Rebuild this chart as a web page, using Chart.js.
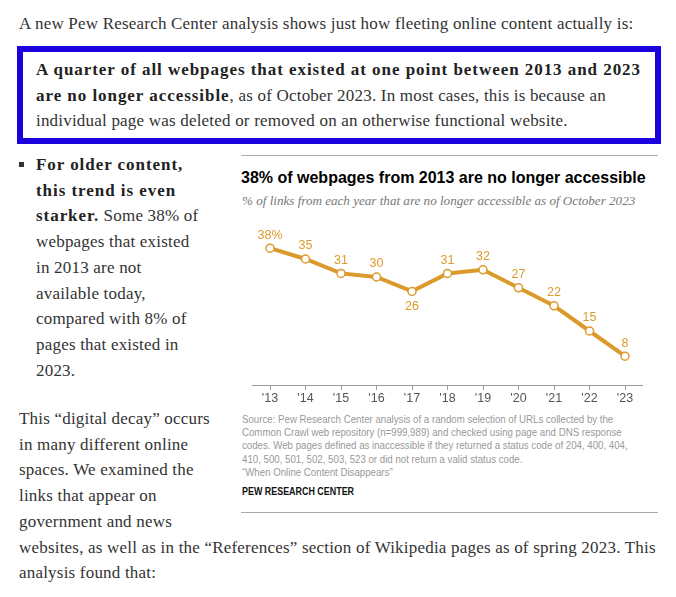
<!DOCTYPE html>
<html>
<head>
<meta charset="utf-8">
<script src="https://cdn.jsdelivr.net/npm/chart.js@4.4.1/dist/chart.umd.min.js"></script>
<style>
    body { margin: 0; background: #fff; width: 676px; height: 597px; overflow: hidden; position: relative; }
    .serif { font-family: "Liberation Serif", "Times New Roman", serif; font-size: 17px; color: #333; line-height: 25.7px; letter-spacing: 0.2px; white-space: nowrap; position: absolute; }
    .serif b { color: #222; letter-spacing: 0.95px; }
    #intro { left: 19px; top: 11px; }
    #box { position: absolute; left: 17px; top: 46px; width: 632px; height: 86px; border: 6.7px solid #1c00de; }
    #boxtext { left: 36px; top: 57px; }
    #bullet { left: 36px; top: 152px; }
    #bulletmark { position: absolute; left: 19px; top: 162px; width: 5px; height: 5px; background: #333; }
    #decay { left: 19px; top: 406px; }
    .rule { position: absolute; left: 241px; width: 417px; height: 0; border-top: 1.5px solid #aaa; }
    #title { position: absolute; left: 241px; top: 168px; font-family: "Liberation Sans", Arial, sans-serif; font-weight: bold; font-size: 16px; line-height: 20px; color: #000; white-space: nowrap; }
    #subtitle { position: absolute; left: 242px; top: 193px; font-family: "Liberation Serif", serif; font-style: italic; font-size: 13.1px; line-height: 16px; color: #777; white-space: nowrap; }
    #chart-wrap { position: absolute; left: 241px; top: 215px; width: 417px; height: 192px; }
    #source { position: absolute; left: 242px; top: 412.5px; font-family: "Liberation Sans", Arial, sans-serif; font-size: 11px; line-height: 13.4px; color: #999; white-space: nowrap; transform: scaleX(0.88); transform-origin: left top; }
    #pew { position: absolute; left: 242px; top: 483.5px; font-family: "Liberation Sans", Arial, sans-serif; font-weight: bold; font-size: 10.5px; line-height: 14px; color: #111; white-space: nowrap; transform: scaleX(0.85); transform-origin: left top; }
</style>
</head>
<body>

<div class="serif" id="intro">A new Pew Research Center analysis shows just how fleeting online content actually is:</div>

<div id="box"></div>
<div class="serif" id="boxtext"><b>A quarter of all webpages that existed at one point between 2013 and 2023</b><br><b>are no longer accessible</b>, as of October 2023. In most cases, this is because an<br>individual page was deleted or removed on an otherwise functional website.</div>

<div id="bulletmark"></div>
<div class="serif" id="bullet"><b>For older content,</b><br><b>this trend is even</b><br><b>starker.</b> Some 38% of<br>webpages that existed<br>in 2013 are not<br>available today,<br>compared with 8% of<br>pages that existed in<br>2023.</div>

<div class="serif" id="decay">This “digital decay” occurs<br>in many different online<br>spaces. We examined the<br>links that appear on<br>government and news<br>websites, as well as in the “References” section of Wikipedia pages as of spring 2023. This<br>analysis found that:</div>

<div class="rule" style="top:155px"></div>
<div id="title">38% of webpages from 2013 are no longer accessible</div>
<div id="subtitle">% of links from each year that are no longer accessible as of October 2023</div>
<div id="chart-wrap"><canvas id="myChart"></canvas></div>
<div id="source">Source: Pew Research Center analysis of a random selection of URLs collected by the<br>Common Crawl web repository (n=999,989) and checked using page and DNS response<br>codes. Web pages defined as inaccessible if they returned a status code of 204, 400, 404,<br>410, 500, 501, 502, 503, 523 or did not return a valid status code.<br>“When Online Content Disappears”</div>
<div id="pew">PEW RESEARCH CENTER</div>
<div class="rule" style="top:512px"></div>

<script>
// datos
const years = ['2013', '2014', '2015', '2016', '2017', '2018', '2019', '2020', '2021', '2022', '2023'];
const tickLabels = ["'13", "'14", "'15", "'16", "'17", "'18", "'19", "'20", "'21", "'22", "'23"];
const inaccessible = [38, 35, 31, 30, 26, 31, 32, 27, 22, 15, 8];

const gold = '#dc9a2c';

// etiquetas de valor encima (o debajo en los minimos locales) de cada punto
const valueLabels = {
    id: 'valueLabels',
    afterDatasetsDraw(chart) {
        const ctx = chart.ctx;
        const meta = chart.getDatasetMeta(0);
        const data = chart.data.datasets[0].data;
        ctx.save();
        ctx.font = '12.5px "Liberation Sans", Arial, sans-serif';
        ctx.fillStyle = gold;
        ctx.textAlign = 'center';
        ctx.textBaseline = 'middle';
        meta.data.forEach(function (pt, i) {
            const below = i > 0 && i < data.length - 1 && data[i] < data[i - 1] && data[i] < data[i + 1];
            const text = i === 0 ? data[i] + '%' : String(data[i]);
            ctx.fillText(text, pt.x, below ? pt.y + 15 : pt.y - 13);
        });
        ctx.restore();
    }
};

const ctx = document.getElementById('myChart').getContext('2d');
const myChart = new Chart(ctx, {
    type: 'line',
    data: {
        labels: tickLabels,
        datasets: [{
            label: '% no longer accessible',
            data: inaccessible,
            borderColor: gold,
            borderWidth: 4,
            pointRadius: 4,
            pointBorderWidth: 1.5,
            pointBackgroundColor: '#fff',
            pointBorderColor: gold,
            tension: 0
        }]
    },
    options: {
        responsive: true,
        maintainAspectRatio: false,
        animation: false,
        layout: { padding: { left: 11.25, right: 15.25, top: 26, bottom: 0 } },
        plugins: {
            legend: { display: false },
            tooltip: { enabled: false }
        },
        scales: {
            x: {
                offset: true,
                grid: { drawOnChartArea: false, drawTicks: true, tickLength: 5, color: '#999' },
                border: { display: true, color: '#999' },
                ticks: { color: '#555', padding: 1, font: { family: '"Liberation Sans", Arial, sans-serif', size: 12.5 } }
            },
            y: {
                display: false,
                min: 0,
                max: 40
            }
        }
    },
    plugins: [valueLabels]
});
</script>
</body>
</html>
